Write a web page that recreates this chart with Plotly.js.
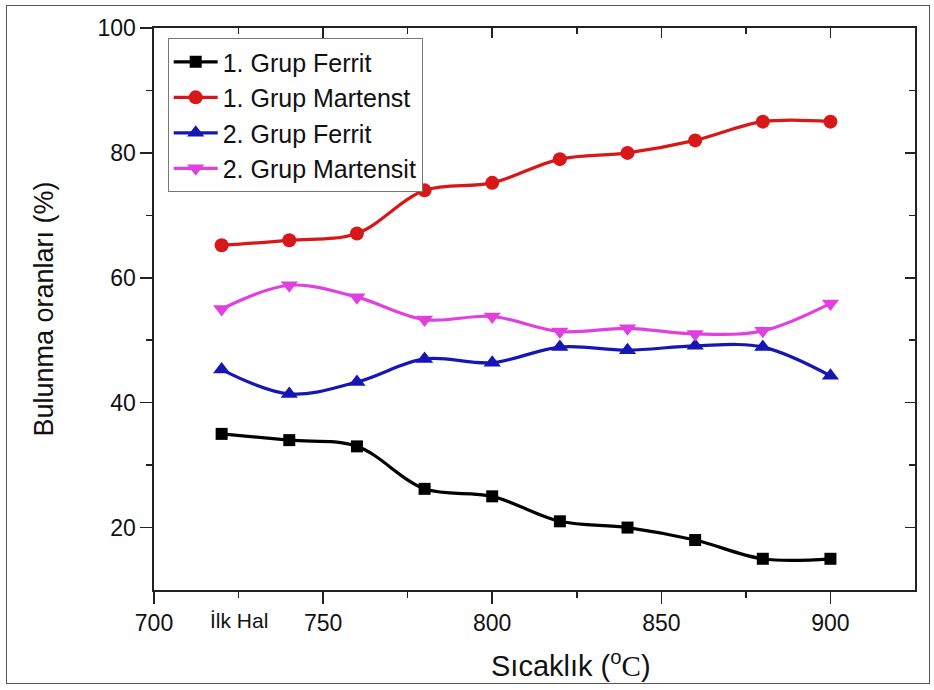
<!DOCTYPE html>
<html>
<head>
<meta charset="utf-8">
<script src="https://cdn.plot.ly/plotly-3.0.1.min.js"></script>
<style>
  html, body { margin: 0; padding: 0; background: #fff; }
  #frame { position: absolute; left: 6px; top: 5px; width: 924px; height: 679px; border: 1px solid #555; box-sizing: border-box; pointer-events: none; }
  #chart { position: absolute; left: 0; top: 0; width: 934px; height: 690px; }
</style>
</head>
<body>
<div id="chart"></div>
<div id="frame"></div>
<script>
const temperatures = [720, 740, 760, 780, 800, 820, 840, 860, 880, 900];
const grup1Ferrit = [35, 34, 33, 26.2, 25, 21, 20, 18, 15, 15];
const grup1Martensit = [65.2, 66, 67.1, 74, 75.2, 79, 80, 82, 85, 85];
const grup2Ferrit = [45.3, 41.4, 43.3, 47, 46.4, 48.9, 48.4, 49.1, 48.9, 44.3];
const grup2Martensit = [55, 58.8, 56.9, 53.3, 53.8, 51.4, 51.9, 51, 51.5, 55.9];

const seriesNames = ['1. Grup Ferrit', '1. Grup Martenst', '2. Grup Ferrit', '2. Grup Martensit'];
const xTickVals = [700, 750, 800, 850, 900];
const xMinorVals = [725, 775, 825, 875];
const yTickVals = [20, 40, 60, 80, 100];
const yMinorVals = [30, 50, 70, 90];
const initialLabel = 'İlk Hal';
const initialLabelX = 725;
const xTitle = 'Sıcaklık (<sup>o</sup><span style="font-family:\'Liberation Serif\',serif">C</span>)';
const yTitle = 'Bulunma oranları (%)';

const fontFam = '"Liberation Sans", Arial, sans-serif';

function mk(y, name, color, symbol, size) {
  return {
    x: temperatures, y: y, name: name, type: 'scatter', mode: 'lines+markers',
    line: { color: color, width: 3.2, shape: 'spline', smoothing: 1 },
    marker: { color: color, symbol: symbol, size: size }
  };
}

const traces = [
  mk(grup1Ferrit, seriesNames[0], '#000000', 'square', 12),
  mk(grup1Martensit, seriesNames[1], '#d81818', 'circle', 14),
  mk(grup2Ferrit, seriesNames[2], '#1616b4', 'triangle-up', 15),
  mk(grup2Martensit, seriesNames[3], '#e040e0', 'triangle-down', 15),
  { x: [], y: [], xaxis: 'x2', yaxis: 'y2', showlegend: false, type: 'scatter' }
];

const axCommon = { showgrid: false, zeroline: false, linecolor: '#222', linewidth: 1.6, tickcolor: '#222', tickwidth: 1.6 };
const minorOut = (vals) => ({ tickvals: vals, ticks: 'outside', ticklen: 6, tickcolor: '#222', tickwidth: 1.6 });
const minorIn = (vals) => ({ tickvals: vals, ticks: 'inside', ticklen: 6, tickcolor: '#222', tickwidth: 1.6 });

const layout = {
  width: 934, height: 690,
  margin: { l: 154, r: 19, t: 28, b: 100 },
  paper_bgcolor: '#fff', plot_bgcolor: '#fff',
  font: { family: fontFam, color: '#111', size: 23 },
  showlegend: true,
  legend: {
    x: 0.018, y: 0.982, xanchor: 'left', yanchor: 'top',
    bordercolor: '#777', borderwidth: 1, bgcolor: '#fff',
    font: { family: fontFam, size: 25, color: '#111' },
    tracegroupgap: 0, itemwidth: 44
  },
  xaxis: Object.assign({}, axCommon, {
    range: [700, 925], tickvals: xTickVals, ticktext: xTickVals.map(String),
    ticks: 'outside', ticklen: 12, showline: true,
    minor: minorOut(xMinorVals),
    tickfont: { size: 23, family: fontFam }
  }),
  yaxis: Object.assign({}, axCommon, {
    range: [10, 100], tickvals: yTickVals, ticktext: yTickVals.map(String),
    ticks: 'outside', ticklen: 12, showline: true,
    minor: minorOut(yMinorVals),
    tickfont: { size: 23, family: fontFam },
    title: { text: yTitle, font: { size: 27, family: fontFam }, standoff: 36 }
  }),
  xaxis2: Object.assign({}, axCommon, {
    overlaying: 'x', side: 'top', anchor: 'y2', range: [700, 925],
    tickvals: xTickVals, ticks: 'inside', ticklen: 10, showticklabels: false, showline: true,
    minor: minorIn(xMinorVals)
  }),
  yaxis2: Object.assign({}, axCommon, {
    overlaying: 'y', side: 'right', anchor: 'x2', range: [10, 100],
    tickvals: yTickVals, ticks: 'inside', ticklen: 10, showticklabels: false, showline: true,
    minor: minorIn(yMinorVals)
  }),
  annotations: [
    {
      x: initialLabelX, y: 0, xref: 'x', yref: 'paper', yanchor: 'top', yshift: -17,
      text: initialLabel, showarrow: false,
      font: { size: 21, family: '"Liberation Sans Narrow", "Arial Narrow", "Liberation Sans", sans-serif', color: '#111' }
    },
    {
      x: 0.548, y: 0, xref: 'paper', yref: 'paper', yanchor: 'top', yshift: -54,
      text: xTitle, showarrow: false,
      font: { size: 29, family: fontFam, color: '#111' }
    }
  ]
};

Plotly.newPlot('chart', traces, layout, { displayModeBar: false, staticPlot: true });
</script>
</body>
</html>
